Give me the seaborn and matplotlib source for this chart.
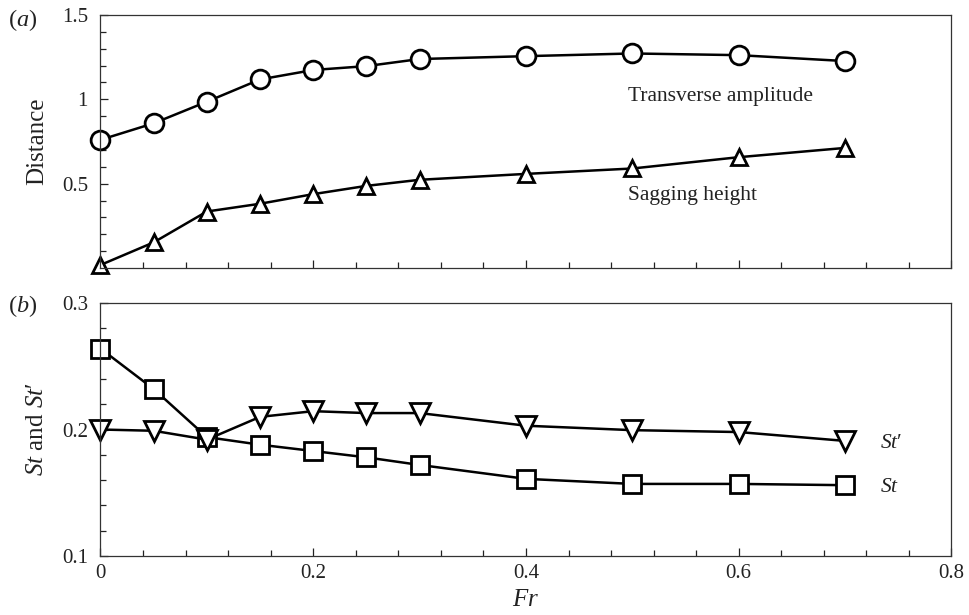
import matplotlib
matplotlib.use("Agg")
import matplotlib.pyplot as plt
import seaborn as sns
from matplotlib.ticker import MultipleLocator, FixedLocator, FuncFormatter

# Froude numbers
fr = [0, 0.05, 0.1, 0.15, 0.2, 0.25, 0.3, 0.4, 0.5, 0.6, 0.7]

# (a) distances
transverse_amp = [0.76, 0.858, 0.986, 1.118, 1.174, 1.197, 1.239, 1.256, 1.272, 1.262, 1.227]
sagging_height = [0.018, 0.152, 0.335, 0.381, 0.438, 0.487, 0.523, 0.558, 0.59, 0.657, 0.712]

# (b) Strouhal numbers
st = [0.264, 0.232, 0.194, 0.188, 0.183, 0.178, 0.172, 0.161, 0.157, 0.157, 0.156]
st_prime = [0.200, 0.199, 0.192, 0.210, 0.2145, 0.213, 0.213, 0.203, 0.1995, 0.198, 0.191]

sns.set_style("ticks")
plt.rcParams["font.family"] = ["Liberation Serif", "DejaVu Serif"]
plt.rcParams["mathtext.fontset"] = "custom"
plt.rcParams["mathtext.rm"] = "Liberation Serif"
plt.rcParams["mathtext.it"] = "Liberation Serif:italic"

fig = plt.figure(figsize=(9.69, 6.15), dpi=100)
ax1 = fig.add_axes([0.1037, 0.5642, 0.8782, 0.4114])
ax2 = fig.add_axes([0.1037, 0.0959, 0.8782, 0.4114])

line_kw = dict(color="k", linewidth=1.8, markerfacecolor="white",
               markeredgecolor="k", markeredgewidth=2.0, clip_on=False)

sns.lineplot(x=fr, y=transverse_amp, ax=ax1, marker="o", markersize=13.5, **line_kw)
sns.lineplot(x=fr, y=sagging_height, ax=ax1, marker="^", markersize=11.5, **line_kw)
sns.lineplot(x=fr, y=st, ax=ax2, marker="s", markersize=13, **line_kw)
sns.lineplot(x=fr, y=st_prime, ax=ax2, marker="v", markersize=14, **line_kw)

fmt = FuncFormatter(lambda v, p: "%g" % v)
for ax in (ax1, ax2):
    ax.set_xlim(0, 0.8)
    ax.xaxis.set_major_locator(MultipleLocator(0.2))
    ax.xaxis.set_minor_locator(MultipleLocator(0.04))
    ax.tick_params(which="both", direction="in", top=False, right=False,
                   colors="#222222", labelcolor="#222222", labelsize=15)
    ax.tick_params(which="major", length=6, width=0.9)
    ax.tick_params(which="minor", length=4, width=0.9)
    ax.tick_params(axis="y", pad=9)
    ax.tick_params(axis="x", pad=6)
    for s in ax.spines.values():
        s.set_linewidth(0.9)
        s.set_color("#333333")
    ax.xaxis.set_major_formatter(fmt)
    ax.yaxis.set_major_formatter(fmt)

ax1.set_ylim(0, 1.5)
ax1.yaxis.set_major_locator(FixedLocator([0.5, 1.0, 1.5]))
ax1.yaxis.set_minor_locator(MultipleLocator(0.1))
ax1.tick_params(axis="x", labelbottom=False)
ax1.set_ylabel("Distance", fontsize=18, color="#222222", labelpad=10)

ax2.set_ylim(0.1, 0.3)
ax2.yaxis.set_major_locator(MultipleLocator(0.1))
ax2.yaxis.set_minor_locator(MultipleLocator(0.02))
ax2.set_ylabel("$St$ and $St′$", fontsize=18, color="#222222", labelpad=10)
ax2.set_xlabel(r"$Fr$", fontsize=18, color="#222222", labelpad=4)

ax1.text(0.496, 1.014, "Transverse amplitude", fontsize=15.5, va="center", color="#222222")
ax1.text(0.496, 0.427, "Sagging height", fontsize=15.5, va="center", color="#222222")
ax2.text(0.733, 0.189, "$St′$", fontsize=15.5, va="center", color="#222222")
ax2.text(0.733, 0.1545, "$St$", fontsize=15.5, va="center", color="#222222")

fig.text(0.008, 0.967, r"$(a)$", fontsize=17.5, va="center", color="#222222")
fig.text(0.008, 0.503, r"$(b)$", fontsize=17.5, va="center", color="#222222")

fig.savefig("out.png", dpi=100)
